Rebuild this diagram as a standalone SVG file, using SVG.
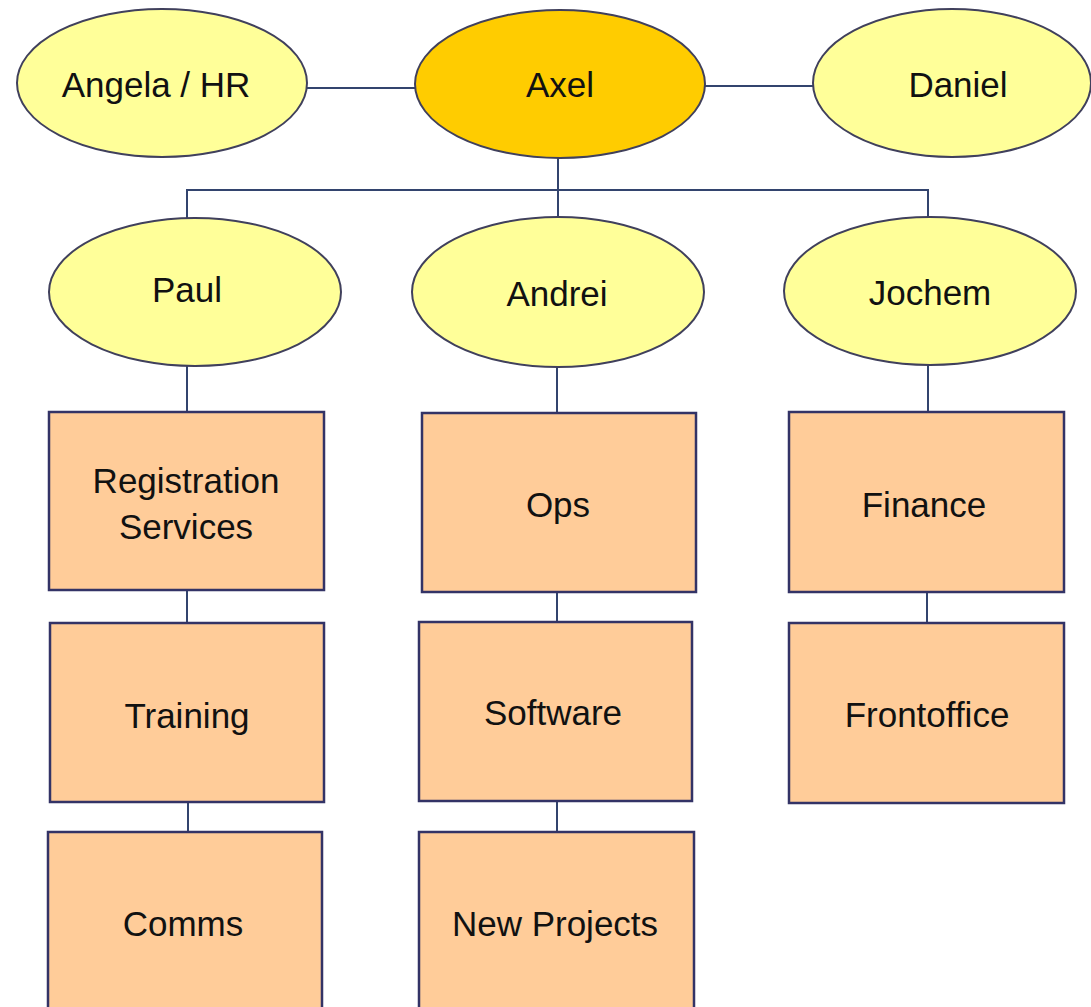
<svg xmlns="http://www.w3.org/2000/svg" width="1091" height="1007" viewBox="0 0 1091 1007">
<style>
  .bg { fill: #FFFFFF; }
  .ell { fill: #FFFF99; stroke: #40405C; stroke-width: 2; }
  .boss { fill: #FFCC00; stroke: #40405C; stroke-width: 2; }
  .box { fill: #FFCC99; stroke: #333366; stroke-width: 2.5; }
  .conn { fill: none; stroke: #33446E; stroke-width: 2; }
  .lbl { font-family: "Liberation Sans", Arial, sans-serif; font-size: 35px; fill: #111111; text-anchor: middle; }
</style>
<rect class="bg" x="0" y="0" width="1091" height="1007"/>

<g id="connectors">
  <line class="conn" x1="307" y1="88" x2="416" y2="88"/>
  <line class="conn" x1="704" y1="86" x2="813" y2="86"/>
  <line class="conn" x1="558" y1="157" x2="558" y2="217"/>
  <polyline class="conn" points="187,218 187,190 928,190 928,217"/>
  <line class="conn" x1="187" y1="366" x2="187" y2="412"/>
  <line class="conn" x1="557" y1="366" x2="557" y2="413"/>
  <line class="conn" x1="928" y1="365" x2="928" y2="412"/>
  <line class="conn" x1="187" y1="590" x2="187" y2="623"/>
  <line class="conn" x1="188" y1="802" x2="188" y2="832"/>
  <line class="conn" x1="557" y1="592" x2="557" y2="622"/>
  <line class="conn" x1="557" y1="801" x2="557" y2="832"/>
  <line class="conn" x1="927" y1="592" x2="927" y2="623"/>
</g>

<g id="angela">
  <ellipse class="ell" cx="162" cy="83" rx="145" ry="74"/>
  <text class="lbl" x="156" y="97">Angela / HR</text>
</g>
<g id="axel">
  <ellipse class="boss" cx="560" cy="84" rx="145" ry="74"/>
  <text class="lbl" x="560" y="97">Axel</text>
</g>
<g id="daniel">
  <ellipse class="ell" cx="952" cy="83" rx="139" ry="74"/>
  <text class="lbl" x="958" y="97">Daniel</text>
</g>

<g id="paul">
  <ellipse class="ell" cx="195" cy="292" rx="146" ry="74"/>
  <text class="lbl" x="187" y="302">Paul</text>
</g>
<g id="andrei">
  <ellipse class="ell" cx="558" cy="292" rx="146" ry="75"/>
  <text class="lbl" x="557" y="306">Andrei</text>
</g>
<g id="jochem">
  <ellipse class="ell" cx="930" cy="291" rx="146" ry="74"/>
  <text class="lbl" x="930" y="305">Jochem</text>
</g>

<g id="registration">
  <rect class="box" x="49" y="412" width="275" height="178"/>
  <text class="lbl" x="186" y="493">Registration</text>
  <text class="lbl" x="186" y="539">Services</text>
</g>
<g id="training">
  <rect class="box" x="50" y="623" width="274" height="179"/>
  <text class="lbl" x="187" y="728">Training</text>
</g>
<g id="comms">
  <rect class="box" x="48" y="832" width="274" height="190"/>
  <text class="lbl" x="183" y="936">Comms</text>
</g>

<g id="ops">
  <rect class="box" x="422" y="413" width="274" height="179"/>
  <text class="lbl" x="558" y="517">Ops</text>
</g>
<g id="software">
  <rect class="box" x="419" y="622" width="273" height="179"/>
  <text class="lbl" x="553" y="725">Software</text>
</g>
<g id="newprojects">
  <rect class="box" x="419" y="832" width="275" height="190"/>
  <text class="lbl" x="555" y="936">New Projects</text>
</g>

<g id="finance">
  <rect class="box" x="789" y="412" width="275" height="180"/>
  <text class="lbl" x="924" y="517">Finance</text>
</g>
<g id="frontoffice">
  <rect class="box" x="789" y="623" width="275" height="180"/>
  <text class="lbl" x="927" y="727">Frontoffice</text>
</g>
</svg>
